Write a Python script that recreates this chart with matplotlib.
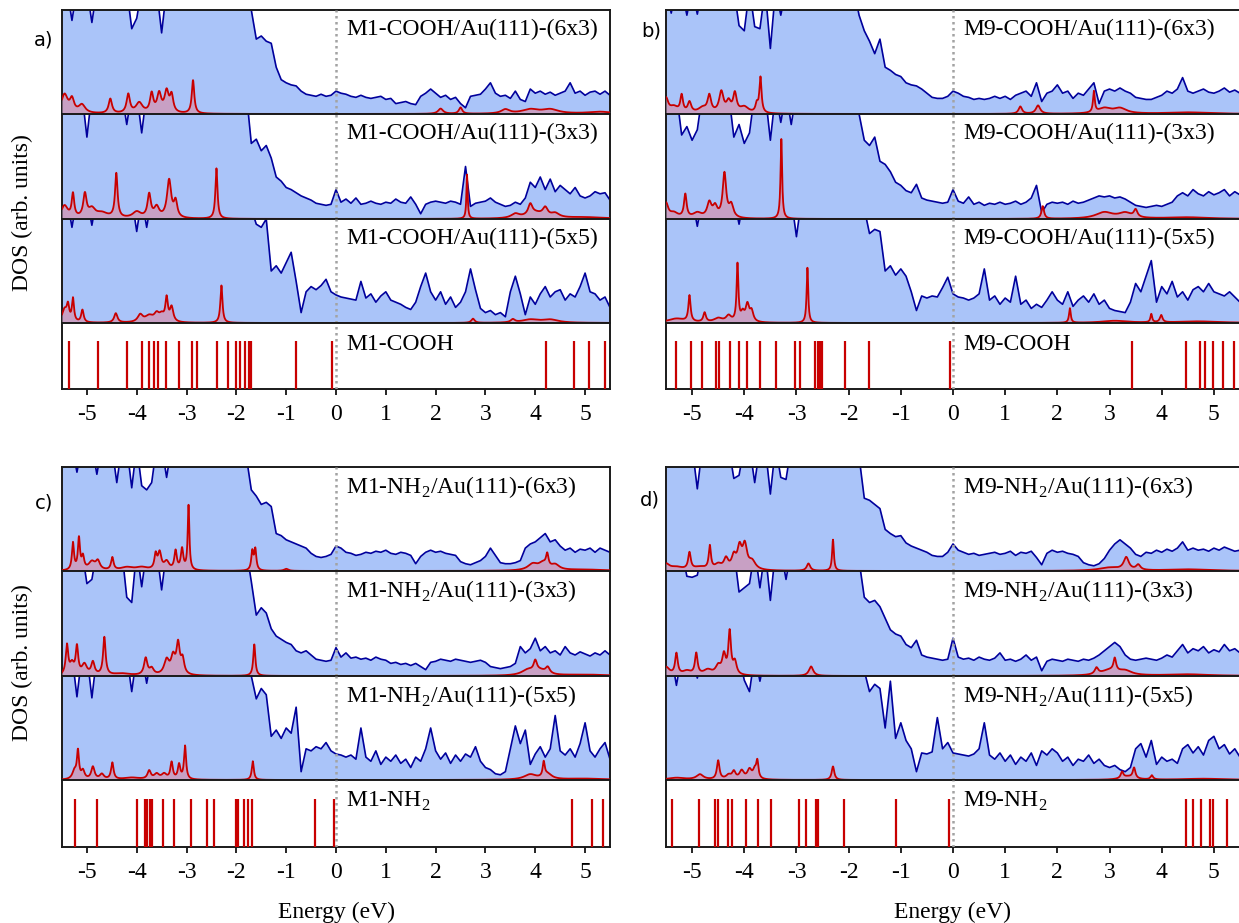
import numpy as np
import matplotlib
matplotlib.use('Agg')
import matplotlib.pyplot as plt

plt.rcParams['font.family'] = 'Liberation Serif'
plt.rcParams['mathtext.fontset'] = 'custom'
plt.rcParams['mathtext.rm'] = 'Liberation Serif'
plt.rcParams['axes.unicode_minus'] = False

# energy grid of the Au/molecule DOS (eV), 0.1 eV step
energy = np.linspace(-5.5, 5.5, 111)

# ---- total DOS (percent of the sub-panel height, >100 is off scale) ----
a1_dos = [120,120,90,120,120,120,88,120,120,120, 120,120,120,120,82,92,120,120,120,120,
          78,120,120,120,120,120,120,120,120,120, 120,120,120,120,120,120,120,120,
          100,72,75,70,68,45,33,30,28,27,22,19,18,17,19,17,18,
          22,20,19,17,16,18,16,15,16,17, 14,15,10,11,12,10,9,17,20,24,
          20,16,18,14,16,10,6,17,18,19, 24,30,20,17,18,15,22,14,12,24,
          20,22,19,21,18,20,22,30,20,22, 18,21,22,19,22,18]
a2_dos = [120,120,120,120,120,78,120,120,120,120, 120,120,120,90,120,120,82,120,120,120,
          120,120,120,120,120,120,120,120,120,120, 120,120,120,120,120,120,120,120,
          72,76,65,70,58,40,36,30,28,25,22,20,18,15,14,13,14,
          28,16,19,15,20,14,15,17,15,14, 16,15,19,16,15,21,14,5,14,16,
          17,16,15,17,16,14,50,12,15,16, 17,20,16,14,12,13,16,14,20,35,
          30,40,28,38,26,32,28,24,30,22, 20,22,26,24,25,18]
a3_dos = [120,120,92,120,120,120,94,120,120,120, 120,120,120,120,120,88,120,92,120,120,
          120,120,120,120,120,120,120,120,120,120, 120,120,120,120,120,120,120,120,
          110,95,92,100,50,55,48,58,68,40,10,30,35,32,36,42,30,
          27,25,24,23,22,40,24,28,20,26, 30,22,20,18,15,13,20,35,48,30,
          22,30,18,25,15,20,30,52,32,14, 10,12,8,10,6,30,45,28,8,25,
          18,28,35,25,30,32,22,28,25,35, 48,30,28,22,25,15]
b1_dos = [120,97,120,120,95,120,96,120,120,120, 120,120,120,120,85,80,120,84,82,120,
          63,120,95,120,120,120,120,120,120,120, 120,120,120,120,120,120,120,95,
          80,70,58,72,45,42,38,36,30,28,27,24,20,16,15,15,17,
          22,20,17,16,14,15,14,15,17,15, 17,14,18,20,22,17,30,12,20,22,
          28,20,22,15,20,18,24,30,10,22, 24,22,25,22,20,16,15,14,14,16,
          18,22,20,24,35,22,20,22,24,21, 20,22,25,21,23,20]
b2_dos = [120,120,120,80,88,75,85,120,120,120, 120,120,120,78,90,72,82,120,120,120,
          75,120,92,120,90,120,120,120,120,120, 120,120,120,120,120,120,120,100,
          75,70,78,55,52,45,35,32,27,25,33,20,18,17,16,15,16,
          28,17,15,21,14,16,13,15,14,16, 14,15,17,14,16,20,32,6,14,16,
          15,16,14,17,15,16,18,20,22,21, 22,20,21,19,16,13,12,11,12,13,
          12,14,16,22,25,22,28,24,22,26, 23,25,28,22,26,23]
b3_dos = [120,120,120,120,120,120,93,120,120,120, 120,120,120,120,95,120,120,120,120,120,
          120,120,120,120,120,83,120,120,120,120, 120,120,120,120,120,120,120,120,
          110,86,90,88,50,55,46,52,45,30,12,26,24,26,25,34,44,
          28,25,24,22,24,28,52,22,26,18, 24,20,45,18,22,14,18,15,22,30,
          22,18,30,16,22,26,20,28,18,22, 14,12,11,10,20,38,30,45,60,20,
          35,28,40,25,30,22,32,35,30,38, 30,28,26,30,25,20]
c1_dos = [120,120,120,95,120,120,120,93,120,120, 120,85,120,120,80,120,82,78,85,120,
          120,90,120,120,120,120,120,120,120,120, 120,120,120,120,120,120,120,110,
          78,72,64,66,62,36,34,30,28,26,24,22,17,14,13,14,16,
          24,22,18,17,15,16,18,17,19,18, 20,17,16,18,17,15,7,14,18,20,
          18,19,17,16,15,9,7,6,8,10, 14,22,15,8,7,7,8,10,22,26,
          28,32,36,28,30,24,20,22,18,21, 20,22,18,22,20,18]
c2_dos = [120,120,120,120,120,88,92,120,120,120, 120,120,120,75,70,120,85,120,120,120,
          82,120,120,120,120,120,120,120,120,120, 120,120,120,120,120,120,120,120,
          90,58,65,60,45,38,35,32,30,24,22,24,20,16,15,14,15,
          27,18,22,17,18,16,17,15,18,16, 15,12,13,11,12,10,12,9,6,13,
          14,16,15,14,16,15,14,13,14,15, 13,9,8,7,8,9,12,28,22,26,
          36,24,28,22,24,20,28,22,20,23, 21,19,22,20,24,20]
c3_dos = [120,120,120,80,120,120,79,120,120,120, 120,120,120,120,85,120,120,93,120,120,
          120,120,120,120,120,120,120,120,120,120, 120,120,120,120,120,120,120,120,
          100,78,88,82,42,48,40,50,45,70,8,30,28,32,30,36,28,
          25,24,22,24,20,50,22,18,28,15, 22,18,24,16,20,12,22,18,30,50,
          28,20,26,16,24,18,25,22,32,18, 12,10,6,5,8,30,52,35,48,15,
          25,32,22,30,62,28,24,30,22,35, 55,28,22,30,36,20]
d1_dos = [120,120,120,120,120,120,79,120,120,120, 120,120,120,89,92,120,120,85,120,120,
          74,120,90,88,120,120,120,120,120,120, 120,120,120,120,120,120,120,110,
          70,68,64,60,40,36,33,34,27,24,22,20,18,15,14,14,18,
          26,20,18,16,17,15,16,17,18,16, 17,19,15,18,17,19,13,6,17,20,
          18,19,17,16,14,8,6,5,7,12, 20,26,30,26,22,16,14,18,17,20,
          18,21,19,22,28,20,22,20,21,19, 22,20,23,21,19,20]
d2_dos = [120,120,120,120,95,94,96,120,120,120, 120,120,120,120,80,84,88,120,84,120,
          72,120,120,92,120,120,120,120,120,120, 120,120,120,120,120,120,120,110,
          75,70,72,66,55,44,40,38,30,27,34,20,18,17,16,15,16,
          36,18,16,17,15,18,16,15,17,22, 15,16,14,16,20,15,18,5,14,16,
          15,14,16,15,14,16,15,17,20,24, 28,32,28,20,16,15,16,17,16,15,
          17,20,18,24,30,22,26,24,28,22, 25,23,30,24,26,22]
d3_dos = [120,120,91,120,120,120,98,120,120,120, 120,120,120,120,120,96,85,120,95,120,
          120,120,120,120,120,120,120,120,120,120, 120,120,120,120,120,120,120,120,
          105,85,92,88,50,95,40,55,38,30,8,26,25,27,60,30,36,
          26,25,24,23,25,30,55,24,20,26, 18,24,15,22,18,26,14,28,24,30,
          26,18,22,14,20,18,24,16,20,14, 12,14,10,8,12,30,35,22,38,15,
          22,18,20,16,30,34,26,32,24,38, 42,30,34,25,30,22]

# ---- molecule-projected DOS: peaks (energy eV, height %, half width eV) ----
a1_pdos = [(-5.45, 18, 0.08), (-5.3, 12, 0.05), (-5.1, 8, 0.08), (-4.53, 14, 0.04),
           (-4.17, 18, 0.04), (-3.95, 10, 0.08), (-3.7, 18, 0.04), (-3.55, 18, 0.05),
           (-3.4, 20, 0.05), (-3.3, 16, 0.04), (-2.87, 32, 0.03), (2.1, 5, 0.06),
           (2.5, 6, 0.04), (3.4, 4, 0.1), (3.9, 4, 0.2), (4.3, 4, 0.2), (5.3, 2, 0.3)]
a2_pdos = [(-5.45, 12, 0.08), (-5.28, 22, 0.03), (-5.04, 22, 0.04), (-4.9, 8, 0.08),
           (-4.7, 5, 0.15), (-4.41, 42, 0.03), (-4.0, 6, 0.1), (-3.75, 22, 0.04),
           (-3.6, 10, 0.06), (-3.35, 36, 0.05), (-3.22, 15, 0.04), (-2.4, 48, 0.025),
           (2.63, 42, 0.015), (3.6, 4, 0.1), (3.9, 10, 0.05), (4.0, 5, 0.2),
           (4.2, 8, 0.06), (4.4, 4, 0.1), (5.0, 1.5, 0.5)]
a3_pdos = [(-5.45, 12, 0.06), (-5.38, 14, 0.03), (-5.28, 22, 0.025), (-5.09, 12, 0.03),
           (-4.42, 9, 0.04), (-3.93, 7, 0.06), (-3.75, 6, 0.1), (-3.6, 7, 0.06),
           (-3.5, 6, 0.06), (-3.4, 22, 0.03), (-3.3, 14, 0.04), (-2.3, 36, 0.025),
           (2.75, 4, 0.04), (3.55, 3, 0.05), (3.9, 3, 0.2), (4.3, 3, 0.2)]
b1_pdos = [(-5.5, 14, 0.05), (-5.35, 6, 0.1), (-5.2, 16, 0.03), (-5.05, 10, 0.04),
           (-4.8, 5, 0.1), (-4.67, 16, 0.04), (-4.44, 20, 0.05), (-4.3, 10, 0.05),
           (-4.18, 18, 0.04), (-4.0, 6, 0.1), (-3.76, 8, 0.03), (-3.69, 34, 0.025),
           (1.29, 7, 0.04), (1.63, 8, 0.05), (2.7, 20, 0.02), (2.9, 5, 0.15),
           (3.2, 5, 0.15), (4.5, 1.5, 0.5)]
b2_pdos = [(-5.5, 14, 0.05), (-5.35, 5, 0.1), (-5.13, 22, 0.03), (-4.9, 5, 0.1),
           (-4.67, 14, 0.05), (-4.56, 10, 0.05), (-4.38, 42, 0.04), (-4.25, 12, 0.05),
           (-3.29, 76, 0.018), (1.72, 12, 0.03), (2.9, 6, 0.2), (3.3, 5, 0.15),
           (3.5, 7, 0.04), (4.5, 1.5, 0.5)]
b3_pdos = [(-5.3, 4, 0.2), (-5.05, 25, 0.025), (-4.76, 9, 0.03), (-4.5, 4, 0.1),
           (-4.3, 6, 0.06), (-4.13, 55, 0.02), (-4.03, 8, 0.04), (-3.94, 16, 0.04),
           (-3.86, 10, 0.04), (-2.79, 53, 0.018), (2.24, 14, 0.02), (3.1, 2, 0.3),
           (3.8, 8, 0.02), (3.99, 7, 0.03), (4.7, 1.5, 0.5)]
c1_pdos = [(-5.28, 26, 0.025), (-5.16, 30, 0.025), (-5.08, 12, 0.03), (-4.9, 8, 0.08),
           (-4.78, 8, 0.05), (-4.49, 12, 0.03), (-4.2, 3, 0.15), (-3.9, 3, 0.15),
           (-3.62, 14, 0.03), (-3.54, 16, 0.04), (-3.4, 8, 0.06), (-3.22, 18, 0.03),
           (-3.09, 20, 0.03), (-2.96, 62, 0.02), (-1.68, 18, 0.025), (-1.62, 20, 0.025),
           (-1.0, 2, 0.05), (3.95, 6, 0.12), (4.15, 6, 0.1), (4.24, 12, 0.03),
           (4.4, 5, 0.1), (5.0, 1.2, 0.5)]
c2_pdos = [(-5.4, 28, 0.03), (-5.3, 10, 0.05), (-5.2, 26, 0.03), (-5.05, 10, 0.06),
           (-4.88, 12, 0.04), (-4.65, 36, 0.03), (-4.3, 2, 0.2), (-3.82, 16, 0.04),
           (-3.7, 6, 0.05), (-3.4, 14, 0.06), (-3.27, 16, 0.05), (-3.17, 28, 0.04),
           (-3.08, 14, 0.04), (-1.64, 30, 0.025), (3.85, 5, 0.15), (4.0, 10, 0.04),
           (4.1, 4, 0.15), (4.25, 6, 0.05), (5.0, 1.2, 0.5)]
c3_pdos = [(-5.25, 8, 0.05), (-5.18, 26, 0.025), (-5.08, 8, 0.04), (-4.88, 12, 0.04),
           (-4.7, 5, 0.05), (-4.49, 16, 0.03), (-4.1, 2, 0.2), (-3.75, 8, 0.04),
           (-3.6, 5, 0.06), (-3.45, 5, 0.06), (-3.3, 16, 0.03), (-3.15, 14, 0.03),
           (-3.03, 32, 0.025), (-1.67, 18, 0.025), (3.9, 5, 0.15), (4.17, 14, 0.025),
           (4.25, 5, 0.1), (5.0, 1.2, 0.5)]
d1_pdos = [(-5.5, 6, 0.08), (-5.3, 3, 0.15), (-5.05, 16, 0.03), (-4.85, 3, 0.15),
           (-4.66, 22, 0.025), (-4.5, 5, 0.08), (-4.35, 10, 0.05), (-4.2, 12, 0.05),
           (-4.09, 20, 0.05), (-3.99, 22, 0.05), (-3.85, 8, 0.08), (-2.77, 7, 0.04),
           (-2.3, 30, 0.02), (3.0, 3, 0.25), (3.32, 12, 0.06), (3.55, 5, 0.05),
           (4.5, 1.5, 0.5)]
d2_pdos = [(-5.5, 8, 0.08), (-5.3, 20, 0.03), (-5.1, 4, 0.1), (-4.92, 20, 0.03),
           (-4.7, 5, 0.1), (-4.5, 8, 0.06), (-4.39, 18, 0.04), (-4.28, 40, 0.03),
           (-4.18, 12, 0.04), (-2.72, 9, 0.05), (2.75, 6, 0.04), (3.0, 5, 0.2),
           (3.1, 12, 0.03), (3.3, 4, 0.15), (4.5, 1.5, 0.5)]
d3_pdos = [(-5.3, 2, 0.2), (-4.85, 5, 0.08), (-4.5, 18, 0.03), (-4.3, 4, 0.06),
           (-4.2, 7, 0.04), (-4.05, 8, 0.05), (-3.9, 9, 0.05), (-3.8, 8, 0.04),
           (-3.75, 16, 0.025), (-2.3, 13, 0.03), (3.24, 6, 0.03), (3.35, 3, 0.15),
           (3.47, 10, 0.03), (3.81, 4, 0.03), (4.8, 1.2, 0.5)]

# ---- gas-phase molecular levels (eV) ----
m1_cooh_levels = [-5.36, -4.78, -4.19, -3.90, -3.76, -3.66, -3.58, -3.42, -3.15, -2.89,
                  -2.79, -2.39, -2.17, -2.00, -1.92, -1.83, -1.75, -1.71, -0.81, -0.08,
                  4.21, 4.77, 5.08, 5.39]
m9_cooh_levels = [-5.30, -5.03, -4.81, -4.54, -4.48, -4.27, -4.10, -3.95, -3.70, -3.40,
                  -3.03, -2.93, -2.64, -2.58, -2.55, -2.51, -2.07, -1.61, -0.05, 3.43,
                  4.47, 4.73, 4.83, 4.99, 5.18, 5.38]
m1_nh2_levels = [-5.23, -4.79, -4.00, -3.83, -3.79, -3.73, -3.69, -3.48, -3.26, -2.91,
                 -2.58, -2.45, -2.00, -1.96, -1.84, -1.76, -1.68, -0.42, -0.05, 4.74,
                 5.14, 5.36]
m9_nh2_levels = [-5.38, -4.86, -4.56, -4.51, -4.32, -4.24, -3.97, -3.73, -3.48, -2.95,
                 -2.81, -2.62, -2.58, -2.09, -1.10, -0.08, 4.46, 4.59, 4.75, 4.92,
                 4.99, 5.26]

energy_ticks = [-5, -4, -3, -2, -1, 0, 1, 2, 3, 4, 5]
cells = ['(6x3)', '(3x3)', '(5x5)']

BLUE_FILL = '#aac4f9'
BLUE_LINE = '#00009c'
RED_LINE = '#c80000'
RED_FILL = '#c8a0c4'
ZERO_LINE = '#a3a3a3'
FS = 17

W, H = 1239, 923
fig = plt.figure(figsize=(W / 100, H / 100), dpi=100)

top_rows = [(10, 114), (114, 219), (219, 323), (323, 389)]
bot_rows = [(467, 571), (571, 676), (676, 780), (780, 847)]

panels = [
    dict(x=(62, 610), rows=top_rows, mol='M1-COOH', dos=[a1_dos, a2_dos, a3_dos],
         pdos=[a1_pdos, a2_pdos, a3_pdos], levels=m1_cooh_levels, tag='a)', tagpos=(44, 40)),
    dict(x=(666, 1240), rows=top_rows, mol='M9-COOH', dos=[b1_dos, b2_dos, b3_dos],
         pdos=[b1_pdos, b2_pdos, b3_pdos], levels=m9_cooh_levels, tag='b)', tagpos=(651, 31)),
    dict(x=(62, 610), rows=bot_rows, mol='M1-NH$_2$', dos=[c1_dos, c2_dos, c3_dos],
         pdos=[c1_pdos, c2_pdos, c3_pdos], levels=m1_nh2_levels, tag='c)', tagpos=(44, 503)),
    dict(x=(666, 1240), rows=bot_rows, mol='M9-NH$_2$', dos=[d1_dos, d2_dos, d3_dos],
         pdos=[d1_pdos, d2_pdos, d3_pdos], levels=m9_nh2_levels, tag='d)', tagpos=(650, 500)),
]

fine = np.linspace(-5.5, 5.5, 2201)


def broaden(peaks):
    out = np.zeros_like(fine)
    for e0, h, w in peaks:
        out += h * w ** 2 / ((fine - e0) ** 2 + w ** 2)
    return out


def px_axes(x0, x1, y0, y1):
    return fig.add_axes([x0 / W, 1 - y1 / H, (x1 - x0) / W, (y1 - y0) / H])


for p in panels:
    x0, x1 = p['x']
    for k, (y0, y1) in enumerate(p['rows']):
        ax = px_axes(x0, x1, y0, y1)
        ax.set_xlim(-5.5, 5.5)
        ax.set_ylim(0, 100)
        ax.set_yticks([])
        for s in ax.spines.values():
            s.set_linewidth(1.4)
            s.set_color('#1a1a1a')
        if k < 3:
            dos = np.array(p['dos'][k], dtype=float)
            pd_ = broaden(p['pdos'][k])
            ax.fill_between(energy, dos, color=BLUE_FILL, lw=0, zorder=1)
            ax.plot(energy, dos, color=BLUE_LINE, lw=1.2, zorder=2)
            ax.fill_between(fine, pd_, color=RED_FILL, lw=0, zorder=3)
            ax.plot(fine, pd_, color=RED_LINE, lw=1.3, zorder=4)
            ax.set_xticks([])
            ax.text(0.2, 0.81, p['mol'] + '/Au(111)-' + cells[k], transform=ax.get_xaxis_transform(),
                    fontsize=FS, ha='left', va='center', zorder=6)
        else:
            ax.vlines(p['levels'], 0, 72, color=RED_LINE, lw=1.6, zorder=3)
            ax.set_xticks(energy_ticks)
            ax.set_xticklabels([str(t) for t in energy_ticks])
            ax.tick_params(axis='x', direction='out', length=4, width=1.2, pad=7, labelsize=FS)
            ax.text(0.2, 0.68, p['mol'], transform=ax.get_xaxis_transform(),
                    fontsize=FS, ha='left', va='center', zorder=6)
        ax.axvline(0, color=ZERO_LINE, lw=1.8, ls=(0, (1, 1.4)), zorder=5)
    fig.text(p['tagpos'][0] / W, 1 - p['tagpos'][1] / H, p['tag'], family='DejaVu Sans',
             fontsize=14, ha='center', va='center')

fig.text(22 / W, 1 - 213 / H, 'DOS (arb. units)', rotation=90, fontsize=FS, ha='center', va='center')
fig.text(22 / W, 1 - 663 / H, 'DOS (arb. units)', rotation=90, fontsize=FS, ha='center', va='center')
fig.text(337 / W, 1 - 912 / H, 'Energy (eV)', fontsize=FS, ha='center', va='center')
fig.text(953 / W, 1 - 912 / H, 'Energy (eV)', fontsize=FS, ha='center', va='center')

fig.savefig('out.png', dpi=100)
